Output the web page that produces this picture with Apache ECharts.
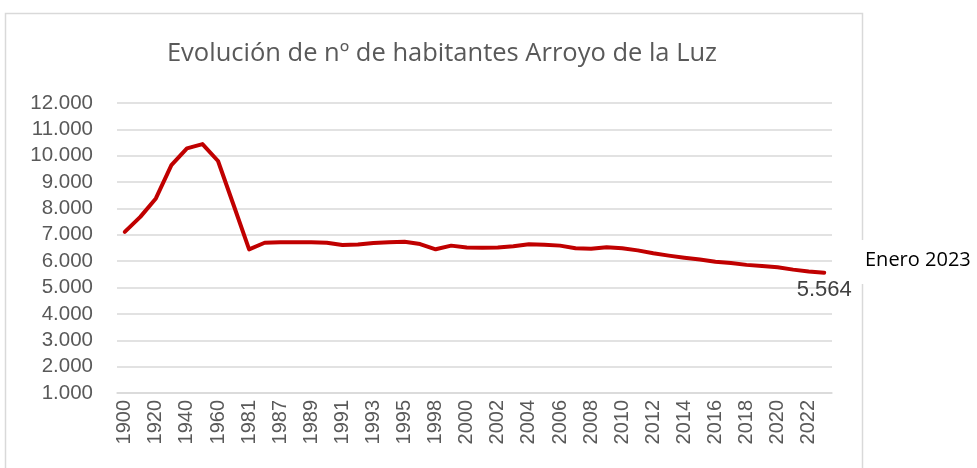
<!DOCTYPE html>
<html>
<head>
<meta charset="utf-8">
<title>Evolución de habitantes Arroyo de la Luz</title>
<script src="https://cdn.jsdelivr.net/npm/echarts@6/dist/echarts.min.js"></script>
<style>
  html, body { margin: 0; padding: 0; background: #fff; }
  #chart { width: 977px; height: 468px; }
</style>
</head>
<body>
<div id="chart"></div>
<script>
// años del padrón
var years = [
  "1900", "1910", "1920", "1930", "1940", "1950", "1960", "1970", "1981", "1986",
  "1987", "1988", "1989", "1990", "1991", "1992", "1993", "1994", "1995", "1996",
  "1998", "1999", "2000", "2001", "2002", "2003", "2004", "2005", "2006", "2007",
  "2008", "2009", "2010", "2011", "2012", "2013", "2014", "2015", "2016", "2017",
  "2018", "2019", "2020", "2021", "2022", "2023"
];
// habitantes
var habitantes = [
  7110, 7680, 8380, 9640, 10280, 10440, 9800, 8130, 6450, 6700,
  6720, 6720, 6720, 6700, 6610, 6630, 6690, 6720, 6740, 6650,
  6450, 6590, 6520, 6510, 6520, 6570, 6640, 6620, 6590, 6490,
  6470, 6530, 6490, 6410, 6300, 6210, 6130, 6060, 5980, 5930,
  5860, 5820, 5770, 5680, 5610, 5564
];
var yTicks = { min: 1000, max: 12000, step: 1000 };

function miles(v) {
  return String(v).replace(/\B(?=(\d{3})+(?!\d))/g, ".");
}

var chart = echarts.init(document.getElementById("chart"));

// solo el último punto lleva etiqueta
var data = habitantes.map(function (v, i) {
  if (i === habitantes.length - 1) {
    return {
      value: v,
      label: {
        show: true,
        position: "bottom",
        distance: 6,
        formatter: function (p) { return miles(p.value); },
        color: "#404040",
        fontSize: 22,
        fontFamily: "Liberation Sans"
      }
    };
  }
  return v;
});

var option = {
  animation: false,
  backgroundColor: "#fff",
  title: {
    text: "Evolución de nº de habitantes Arroyo de la Luz",
    left: 437,
    textAlign: "center",
    top: 36,
    textStyle: {
      color: "#595959",
      fontSize: 25.5,
      fontWeight: "normal",
      fontFamily: "Open Sans"
    }
  },
  grid: { left: 117, right: 145, top: 103, bottom: 75 },
  xAxis: {
    type: "category",
    data: years,
    boundaryGap: true,
    axisLine: { lineStyle: { color: "#d9d9d9", width: 1.5 } },
    axisTick: { show: false },
    axisLabel: {
      interval: 1,
      rotate: 90,
      margin: 7,
      color: "#595959",
      fontSize: 20,
      fontFamily: "Liberation Sans"
    }
  },
  yAxis: {
    type: "value",
    min: yTicks.min,
    max: yTicks.max,
    interval: yTicks.step,
    axisLine: { show: false },
    axisTick: { show: false },
    splitLine: { lineStyle: { color: "#d9d9d9", width: 1.5 } },
    axisLabel: {
      margin: 24,
      color: "#595959",
      fontSize: 20.5,
      fontFamily: "Liberation Sans",
      formatter: function (v) { return miles(v); }
    }
  },
  series: [
    {
      name: "Habitantes",
      type: "line",
      data: data,
      symbol: "circle",
      symbolSize: 1,
      showSymbol: true,
      smooth: false,
      lineStyle: { color: "#c00000", width: 4, cap: "round", join: "round" },
      itemStyle: { color: "rgba(192,0,0,0)", borderWidth: 0 }
    }
  ],
  graphic: [
    {
      type: "rect",
      shape: { x: 5.5, y: 13.5, width: 857, height: 480 },
      style: { fill: "none", stroke: "#d9d9d9", lineWidth: 1.5 },
      z: -1
    },
    {
      type: "rect",
      shape: { x: 852, y: 240, width: 125, height: 44 },
      style: { fill: "#fff" },
      z: 0
    },
    {
      type: "text",
      left: 865,
      top: 250,
      style: {
        text: "Enero 2023",
        fill: "#000",
        fontSize: 20,
        fontFamily: "Open Sans"
      },
      z: 1
    }
  ]
};

chart.setOption(option);
</script>
</body>
</html>
